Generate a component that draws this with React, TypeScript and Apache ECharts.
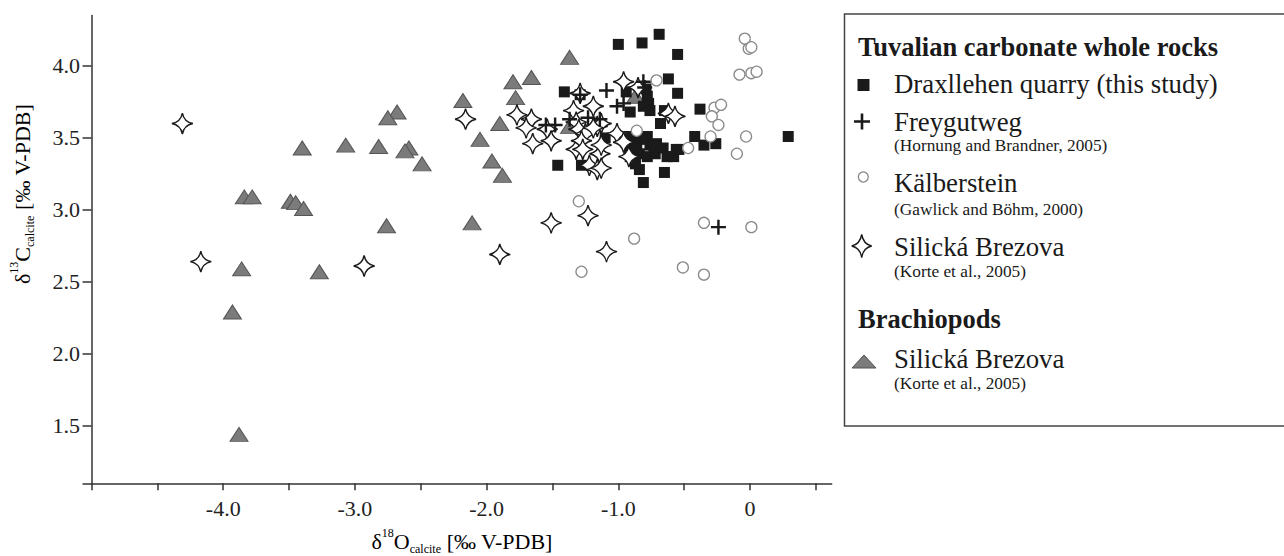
import React, { useEffect, useRef } from "react";
import * as echarts from "echarts";

// δ18O (x), δ13C (y) pairs
const draxllehen: number[][] = [
  [-1.0, 4.15], [-0.82, 4.16], [-0.69, 4.22], [-0.55, 4.08], [-0.62, 3.91], [-0.55, 3.81],
  [-0.38, 3.7], [-1.41, 3.82], [-1.29, 3.8], [-0.94, 3.82], [-0.79, 3.84], [-0.78, 3.79],
  [-0.77, 3.74], [-0.91, 3.68], [-0.65, 3.69], [-0.68, 3.6], [-1.1, 3.5], [-1.46, 3.31],
  [-1.28, 3.31], [-0.42, 3.51], [-0.35, 3.45], [-0.26, 3.46], [-0.54, 3.42], [-0.65, 3.26],
  [-0.81, 3.19], [0.29, 3.51], [-0.92, 3.51], [-0.89, 3.46], [-0.84, 3.49], [-0.78, 3.51],
  [-0.76, 3.45], [-0.71, 3.46], [-0.72, 3.39], [-0.66, 3.43], [-0.63, 3.37], [-0.58, 3.37],
  [-0.56, 3.42], [-0.91, 3.37], [-0.87, 3.32], [-0.84, 3.28], [-0.84, 3.39], [-0.78, 3.37],
  [-0.93, 3.46], [-0.92, 3.4], [-0.86, 3.44], [-0.73, 3.44], [-0.81, 3.72], [-0.76, 3.69],
];
const freygutweg: number[][] = [
  [-1.09, 3.83], [-1.01, 3.72], [-0.96, 3.74], [-0.81, 3.89], [-1.55, 3.59], [-1.48, 3.59],
  [-1.37, 3.63], [-1.23, 3.64], [-1.14, 3.63], [-1.29, 3.8], [-0.24, 2.88], [-0.8, 3.85],
];
const kalberstein: number[][] = [
  [-0.04, 4.19], [-0.01, 4.12], [0.01, 4.13], [-0.08, 3.94], [0.01, 3.95], [0.05, 3.96],
  [-0.71, 3.9], [-0.27, 3.71], [-0.22, 3.73], [-0.29, 3.65], [-0.24, 3.59], [-0.3, 3.51],
  [-0.03, 3.51], [-0.47, 3.43], [-0.1, 3.39], [-0.86, 3.55], [-1.3, 3.06], [-0.88, 2.8],
  [-1.28, 2.57], [-0.51, 2.6], [-0.35, 2.55], [-0.35, 2.91], [0.01, 2.88],
];
const silickaRocks: number[][] = [
  [-4.31, 3.6], [-2.16, 3.63], [-4.17, 2.64], [-2.93, 2.61], [-1.9, 2.69], [-1.51, 2.91],
  [-1.23, 2.96], [-1.09, 2.71], [-1.77, 3.66], [-1.66, 3.63], [-1.7, 3.57], [-1.65, 3.46],
  [-1.54, 3.56], [-1.51, 3.48], [-1.29, 3.81], [-1.34, 3.69], [-1.19, 3.72], [-1.32, 3.61],
  [-1.3, 3.56], [-1.25, 3.53], [-1.16, 3.58], [-1.13, 3.6], [-1.32, 3.42], [-1.28, 3.48],
  [-1.14, 3.39], [-1.22, 3.31], [-1.16, 3.28], [-1.13, 3.29], [-1.01, 3.53], [-0.96, 3.47],
  [-0.92, 3.37], [-0.96, 3.89], [-0.85, 3.85], [-0.62, 3.67], [-0.57, 3.65], [-1.13, 3.45],
  [-1.27, 3.42], [-1.19, 3.57],
];
const brachiopods: number[][] = [
  [-1.37, 4.06], [-1.66, 3.92], [-1.8, 3.89], [-1.78, 3.78], [-1.9, 3.6], [-1.88, 3.24],
  [-1.96, 3.34], [-2.05, 3.49], [-2.18, 3.76], [-2.49, 3.32], [-2.59, 3.43], [-2.62, 3.41],
  [-2.68, 3.68], [-2.75, 3.64], [-2.82, 3.44], [-3.07, 3.45], [-3.4, 3.43], [-3.84, 3.09],
  [-3.78, 3.09], [-3.49, 3.06], [-3.45, 3.05], [-3.39, 3.01], [-2.76, 2.89], [-2.11, 2.91],
  [-3.86, 2.59], [-3.27, 2.57], [-3.93, 2.29], [-3.88, 1.44], [-1.37, 3.58], [-0.87, 3.79],
];

const xTickValues = [-5, -4.5, -4, -3.5, -3, -2.5, -2, -1.5, -1, -0.5, 0, 0.5];
const xLabelValues = [-4, -3, -2, -1, 0];
const yTickValues = [1.1, 1.5, 2, 2.5, 3, 3.5, 4];
const yLabelValues = [1.5, 2, 2.5, 3, 3.5, 4];

const SERIF = "Liberation Serif";
const STAR_D = "M0,-10 Q1.6,-1.6 10,0 Q1.6,1.6 0,10 Q-1.6,1.6 -10,0 Q-1.6,-1.6 0,-10 Z";
const CROSS_D =
  "M-1.3,-8 L1.3,-8 L1.3,-1.3 L8,-1.3 L8,1.3 L1.3,1.3 L1.3,8 L-1.3,8 L-1.3,1.3 L-8,1.3 L-8,-1.3 L-1.3,-1.3 Z";

echarts.graphic.registerShape("star4", echarts.graphic.extendPath(STAR_D, {}) as any);
echarts.graphic.registerShape("cross4", echarts.graphic.extendPath(CROSS_D, {}) as any);

const fmt = (v: number) => (v === 0 ? "0" : v.toFixed(1));

export default function App() {
  const ref = useRef<HTMLDivElement>(null);
  useEffect(() => {
    if (!ref.current) return;
    const chart = echarts.init(ref.current, null, { renderer: "svg" });
    const axisColor = "#333";
    const richAxisTitle = {
      m: { fontFamily: SERIF, fontSize: 22, lineHeight: 28, color: "#222" },
      sup: { fontFamily: SERIF, fontSize: 12, lineHeight: 12, verticalAlign: "top", color: "#222" },
      sub: { fontFamily: SERIF, fontSize: 12, lineHeight: 12, verticalAlign: "bottom", color: "#222" },
    };
    const legendText = (text: string, x: number, y: number, size: number, bold = false) => ({
      type: "text",
      x,
      y,
      silent: true,
      style: {
        text,
        fontFamily: SERIF,
        fontSize: size,
        fontWeight: bold ? "bold" : "normal",
        fill: "#1a1a1a",
        textAlign: "left",
        textVerticalAlign: "middle",
      },
    });
    chart.setOption({
      animation: false,
      backgroundColor: "#fff",
      textStyle: { fontFamily: SERIF },
      grid: { left: 91.5, right: 452.3, top: 15.6, bottom: 72.7, containLabel: false },
      xAxis: {
        type: "value",
        min: -5,
        max: 0.62,
        splitLine: { show: false },
        axisLine: { onZero: false, lineStyle: { color: axisColor, width: 1.5 } },
        axisTick: {
          show: true,
          length: 7,
          inside: false,
          customValues: xTickValues,
          lineStyle: { color: axisColor, width: 1.5 },
        },
        axisLabel: {
          customValues: xLabelValues,
          formatter: fmt,
          margin: 14,
          fontFamily: SERIF,
          fontSize: 22,
          color: "#222",
        },
      },
      yAxis: {
        type: "value",
        min: 1.1,
        max: 4.35,
        splitLine: { show: false },
        axisLine: { onZero: false, lineStyle: { color: axisColor, width: 1.5 } },
        axisTick: {
          show: true,
          length: 9,
          customValues: yTickValues,
          lineStyle: { color: axisColor, width: 1.5 },
        },
        axisLabel: {
          customValues: yLabelValues,
          formatter: fmt,
          margin: 11.5,
          fontFamily: SERIF,
          fontSize: 22,
          color: "#222",
        },
      },
      series: [
        {
          name: "Silická Brezova (Brachiopods)",
          type: "scatter",
          data: brachiopods,
          symbol: "triangle",
          symbolSize: [18, 14],
          silent: true,
          itemStyle: { color: "#7b7b7b", borderColor: "#555", borderWidth: 1, opacity: 1 },
        },
        {
          name: "Draxllehen quarry (this study)",
          type: "scatter",
          data: draxllehen,
          symbol: "rect",
          symbolSize: 11,
          silent: true,
          itemStyle: { color: "#1a1a1a", opacity: 1 },
        },
        {
          name: "Silická Brezova",
          type: "scatter",
          data: silickaRocks,
          symbol: "path://" + STAR_D,
          symbolSize: 21,
          silent: true,
          itemStyle: { color: "#fff", borderColor: "#1a1a1a", borderWidth: 1.4, opacity: 1 },
        },
        {
          name: "Freygutweg",
          type: "scatter",
          data: freygutweg,
          symbol: "path://" + CROSS_D,
          symbolSize: 15,
          silent: true,
          itemStyle: { color: "#1a1a1a", opacity: 1 },
        },
        {
          name: "Kälberstein",
          type: "scatter",
          data: kalberstein,
          symbol: "circle",
          symbolSize: 11,
          silent: true,
          itemStyle: { color: "#fff", borderColor: "#8a8a8a", borderWidth: 1.3, opacity: 1 },
        },
      ],
      graphic: [
        {
          type: "text",
          x: 22,
          y: 194,
          rotation: Math.PI / 2,
          silent: true,
          style: {
            text: "{m|δ}{sup|13}{m|C}{sub|calcite}{m| [‰ V-PDB]}",
            rich: richAxisTitle,
            textAlign: "center",
            textVerticalAlign: "middle",
          },
        },
        {
          type: "text",
          x: 462,
          y: 541,
          silent: true,
          style: {
            text: "{m|δ}{sup|18}{m|O}{sub|calcite}{m| [‰ V-PDB]}",
            rich: richAxisTitle,
            textAlign: "center",
            textVerticalAlign: "middle",
          },
        },
        {
          type: "rect",
          silent: true,
          shape: { x: 844.5, y: 14, width: 460, height: 412 },
          style: { fill: "#fff", stroke: "#444", lineWidth: 1.5 },
        },
        legendText("Tuvalian carbonate whole rocks", 858, 47, 26.5, true),
        {
          type: "rect",
          silent: true,
          shape: { x: 857.5, y: 79, width: 12, height: 12 },
          style: { fill: "#1a1a1a" },
        },
        legendText("Draxllehen quarry (this study)", 894, 84, 26.8),
        {
          type: "cross4",
          silent: true,
          x: 862,
          y: 121.5,
          scaleX: 1,
          scaleY: 1,
          style: { fill: "#1a1a1a" },
        },
        legendText("Freygutweg", 894, 122, 26.8),
        legendText("(Hornung and Brandner, 2005)", 894, 145, 17.3),
        {
          type: "circle",
          silent: true,
          shape: { cx: 863.3, cy: 177, r: 5 },
          style: { fill: "#fff", stroke: "#8a8a8a", lineWidth: 1.3 },
        },
        legendText("Kälberstein", 894, 183, 26.8),
        legendText("(Gawlick and Böhm, 2000)", 894, 209, 17.3),
        {
          type: "star4",
          silent: true,
          x: 861.7,
          y: 246,
          scaleX: 1.0,
          scaleY: 1.15,
          style: { fill: "#fff", stroke: "#1a1a1a", lineWidth: 1.4 },
        },
        legendText("Silická Brezova", 894, 247, 26.8),
        legendText("(Korte et al., 2005)", 894, 271, 17.3),
        legendText("Brachiopods", 858, 319, 26.5, true),
        {
          type: "polygon",
          silent: true,
          shape: { points: [[852, 368], [876, 368], [864, 355]] },
          style: { fill: "#7b7b7b", stroke: "#555", lineWidth: 1 },
        },
        legendText("Silická Brezova", 894, 359, 26.8),
        legendText("(Korte et al., 2005)", 894, 383, 17.3),
      ],
    });
    return () => chart.dispose();
  }, []);
  return (
    <div
      ref={ref}
      style={{ position: "fixed", left: 0, top: 0, width: 1284, height: 556, background: "#fff" }}
    />
  );
}
